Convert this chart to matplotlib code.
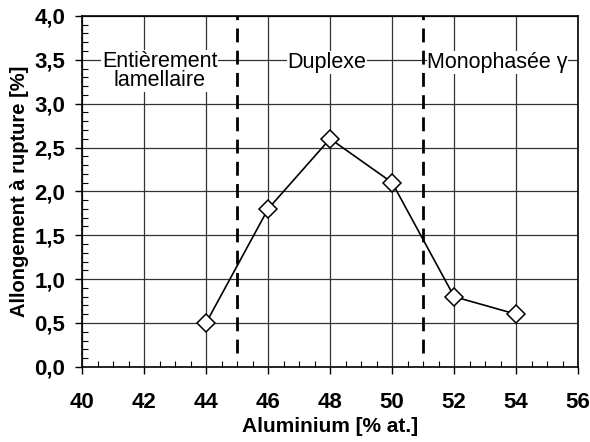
import matplotlib.pyplot as plt
from matplotlib.ticker import FuncFormatter, MultipleLocator

plt.rcParams['font.family'] = ['Liberation Sans', 'DejaVu Sans']

# data
aluminium = [44, 46, 48, 50, 52, 54]
elongation = [0.5, 1.8, 2.6, 2.1, 0.8, 0.6]
boundaries = [45, 51]
regions = ["Entièrement\nlamellaire", "Duplexe", "Monophasée γ"]
region_x = [42.5, 47.9, 53.4]
region_y = [3.37, 3.47, 3.47]

fig = plt.figure(figsize=(5.9, 4.42), dpi=100)
ax = fig.add_axes([0.139, 0.17, 0.841, 0.794])

ax.set_xlim(40, 56)
ax.set_ylim(0, 4)
ax.xaxis.set_major_locator(MultipleLocator(2))
ax.xaxis.set_minor_locator(MultipleLocator(0.5))
ax.yaxis.set_major_locator(MultipleLocator(0.5))
ax.yaxis.set_minor_locator(MultipleLocator(0.1))
ax.yaxis.set_major_formatter(FuncFormatter(lambda v, _: f"{v:.1f}".replace(".", ",")))

ax.grid(which='major', color='#333333', linewidth=0.9)
ax.tick_params(which='minor', direction='in', length=4, width=0.8, top=False, right=False)
ax.tick_params(which='major', direction='out', length=5, width=1, labelsize=16)
ax.tick_params(axis='x', which='major', pad=13)
ax.tick_params(axis='y', which='major', pad=7)
for lab in ax.get_xticklabels() + ax.get_yticklabels():
    lab.set_fontweight('bold')
for s in ax.spines.values():
    s.set_linewidth(1.2)
    s.set_color('black')

# phase boundaries
for b in boundaries:
    ax.axvline(b, ymin=0.04, ymax=1.0, color='black', linewidth=2,
               dashes=(5, 3), zorder=3)

ax.plot(aluminium, elongation, color='black', linewidth=1.2, marker='D',
        markersize=9, markerfacecolor='white', markeredgecolor='black',
        markeredgewidth=1.1, zorder=4)

for label, x, y in zip(regions, region_x, region_y):
    ax.text(x, y, label, ha='center', va='center', fontsize=15.5,
            linespacing=0.9,
            bbox=dict(facecolor='white', edgecolor='none', pad=0.5), zorder=2.5)

ax.set_xlabel("Aluminium [% at.]", fontsize=15, fontweight='bold', labelpad=3)
ax.set_ylabel("Allongement à rupture [%]", fontsize=14.5, fontweight='bold', labelpad=4)

fig.savefig("out.png", dpi=100)
